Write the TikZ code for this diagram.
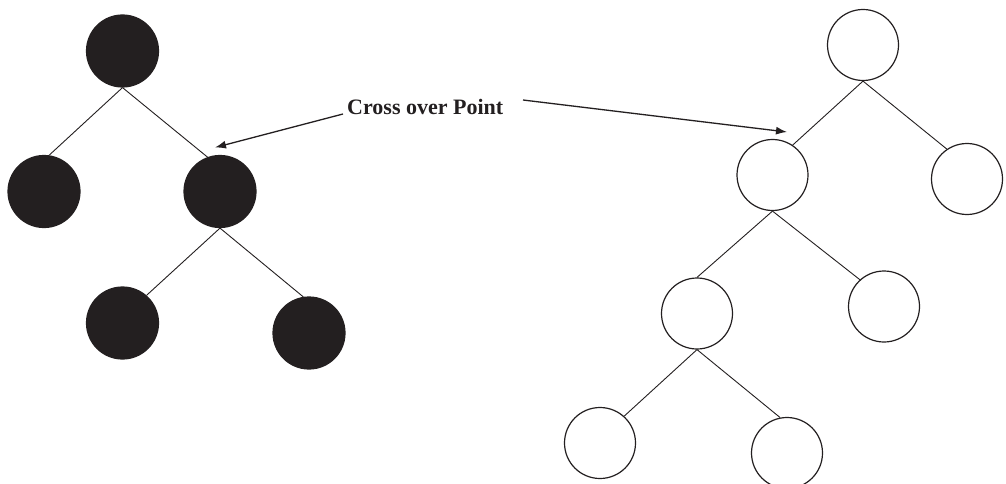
\documentclass[tikz,border=0pt]{standalone}
\usepackage{fontspec}
\setmainfont{Liberation Serif}
\usetikzlibrary{arrows.meta}
\definecolor{ink}{RGB}{35,31,32}
\begin{document}
\begin{tikzpicture}[x=1pt,y=-1pt,
  blacknode/.style={circle,draw=ink,fill=ink,line width=1.2pt,minimum size=72pt,inner sep=0pt},
  whitenode/.style={circle,draw=ink,fill=white,line width=1.2pt,minimum size=71pt,inner sep=0pt},
  edge/.style={draw=ink,line width=0.9pt},
  pointer/.style={draw=ink,line width=1.3pt,-{Latex[length=11pt,width=8pt]}}]
\useasboundingbox (0,0) rectangle (1006,484);
% left tree
\node[blacknode] (a) at (122.5,51) {};
\node[blacknode] (b) at (44,191.5) {};
\node[blacknode] (c) at (220,191.5) {};
\node[blacknode] (d) at (122.5,323) {};
\node[blacknode] (e) at (309,333) {};
\draw[edge] (a.south) -- (b.82);
\draw[edge] (a.south) -- (c.110);
\draw[edge] (c.south) -- (d.49);
\draw[edge] (c.south) -- (e.99);
% right tree
\node[whitenode] (r) at (863,45) {};
\node[whitenode] (rl) at (772.5,175) {};
\node[whitenode] (rr) at (967,179) {};
\node[whitenode] (rll) at (697,313.5) {};
\node[whitenode] (rlr) at (884,306.5) {};
\node[whitenode] (rlll) at (600,443) {};
\node[whitenode] (rllr) at (787,453) {};
\draw[edge] (r.south) -- (rl.56);
\draw[edge] (r.south) -- (rr.124);
\draw[edge] (rl.south) -- (rll.north);
\draw[edge] (rl.south) -- (rlr.132);
\draw[edge] (rll.south) -- (rlll.48);
\draw[edge] (rll.south) -- (rllr.101);
% label and pointers
\node[anchor=base west,inner sep=0pt,font=\bfseries\fontsize{22}{26}\selectfont,text=ink] (cop) at (347,114) {Cross over Point};
\coordinate (s1) at (343,114);
\coordinate (t1) at (215,147.5);
\coordinate (s2) at (523,100);
\coordinate (t2) at (787,132);
\draw[pointer] (s1) -- (t1);
\draw[pointer] (s2) -- (t2);
\end{tikzpicture}
\end{document}
